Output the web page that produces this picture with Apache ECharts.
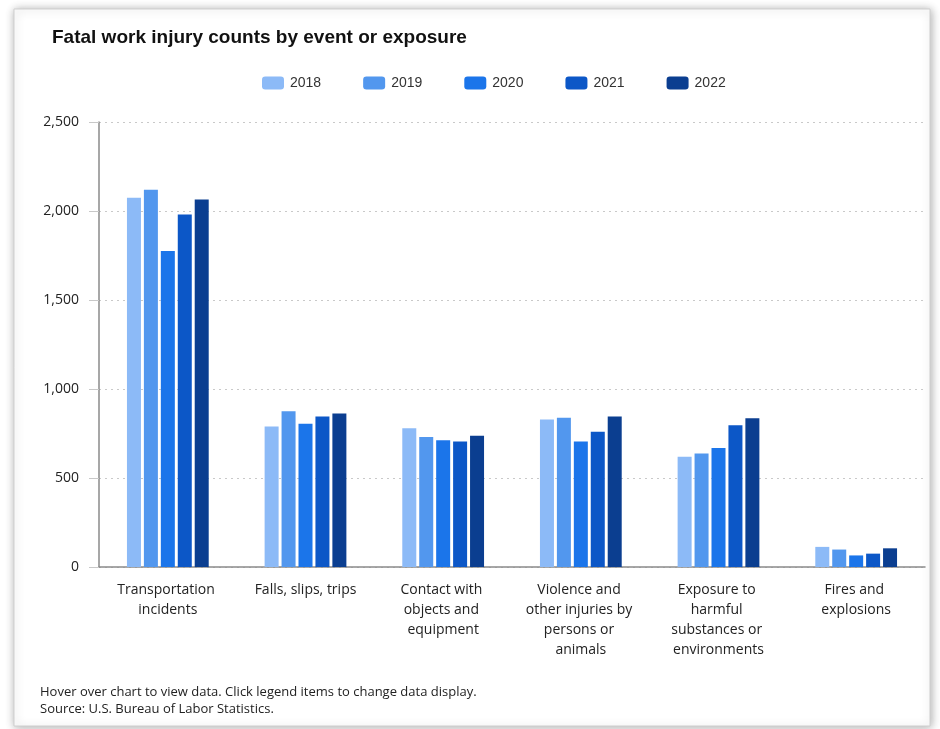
<!DOCTYPE html>
<html>
<head>
<meta charset="utf-8">
<style>
  html, body { margin: 0; padding: 0; background: #ffffff; }
  #chart { width: 940px; height: 729px; }
</style>
<script src="https://cdn.jsdelivr.net/npm/echarts@6/dist/echarts.min.js"></script>
</head>
<body>
<div id="chart"></div>
<script>
// Event or exposure categories (x axis)
const categories = [
  'Transportation incidents',
  'Falls, slips, trips',
  'Contact with objects and equipment',
  'Violence and other injuries by persons or animals',
  'Exposure to harmful substances or environments',
  'Fires and explosions'
];

// Fatal injury counts per year, one value per category
const years = ['2018', '2019', '2020', '2021', '2022'];
const counts2018 = [2075, 790, 780, 828, 620, 113];
const counts2019 = [2120, 875, 730, 838, 638, 98];
const counts2020 = [1775, 805, 712, 705, 668, 65];
const counts2021 = [1980, 845, 705, 760, 796, 75];
const counts2022 = [2065, 862, 737, 846, 836, 105];
const yearValues = [counts2018, counts2019, counts2020, counts2021, counts2022];

const yearColors = ['#8cbaf7', '#5297ee', '#1b75ea', '#0c57c7', '#0b3e90'];

const chart = echarts.init(document.getElementById('chart'), null, { renderer: 'canvas' });

const uiFont = '"Open Sans", "Noto Sans", sans-serif';

chart.setOption({
  backgroundColor: '#ffffff',
  animation: false,
  textStyle: { fontFamily: uiFont },
  graphic: [
    {
      type: 'rect',
      z: -10,
      silent: true,
      shape: { x: 14, y: 9, width: 916, height: 717 },
      style: {
        fill: '#ffffff',
        stroke: '#cfcfcf',
        lineWidth: 1,
        shadowBlur: 9,
        shadowOffsetX: 1,
        shadowOffsetY: 1,
        shadowColor: 'rgba(0,0,0,0.32)'
      }
    },
    {
      type: 'text',
      left: 40,
      top: 684,
      silent: true,
      style: {
        text: 'Hover over chart to view data. Click legend items to change data display.\nSource: U.S. Bureau of Labor Statistics.',
        font: '13px "Open Sans", sans-serif',
        fill: '#222222',
        lineHeight: 17
      }
    }
  ],
  title: {
    text: 'Fatal work injury counts by event or exposure',
    left: 47,
    top: 23,
    textStyle: {
      fontFamily: '"Liberation Sans", Arial, sans-serif',
      fontSize: 19,
      fontWeight: 'bold',
      color: '#111111'
    }
  },
  legend: {
    top: 71,
    left: 257,
    itemWidth: 22,
    itemHeight: 13,
    itemGap: 42,
    icon: 'roundRect',
    textStyle: {
      fontFamily: '"Liberation Sans", sans-serif',
      fontSize: 14,
      color: '#333333',
      padding: [0, 0, 0, 1]
    },
    data: years
  },
  grid: {
    left: 99,
    right: 15,
    top: 122,
    bottom: 162,
    containLabel: false
  },
  xAxis: {
    type: 'category',
    data: categories,
    axisLine: { lineStyle: { color: '#8a8a8a', width: 1.5 } },
    axisTick: { show: false },
    axisLabel: {
      interval: 0,
      fontSize: 14,
      color: '#222222',
      lineHeight: 20,
      margin: 13,
      width: 118,
      overflow: 'break'
    }
  },
  yAxis: {
    type: 'value',
    min: 0,
    max: 2500,
    interval: 500,
    axisLine: { show: true, lineStyle: { color: '#8a8a8a', width: 1.5 } },
    axisTick: { show: true, length: 10, lineStyle: { color: '#c8c8c8' } },
    axisLabel: {
      fontSize: 14,
      color: '#222222',
      margin: 20,
      formatter: v => v.toLocaleString('en-US')
    },
    splitLine: {
      show: true,
      lineStyle: { color: '#c9c9c9', type: [2, 4], width: 1 }
    }
  },
  series: years.map((y, i) => ({
    name: y,
    type: 'bar',
    data: yearValues[i],
    barWidth: 14,
    barGap: '21%',
    itemStyle: { color: yearColors[i] }
  }))
});
</script>
</body>
</html>
